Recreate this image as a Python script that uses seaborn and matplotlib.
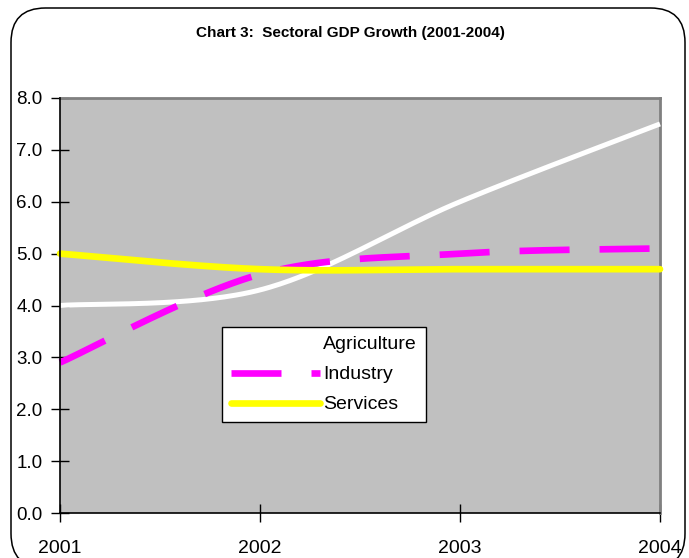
import numpy as np
import pandas as pd
import seaborn as sns
import matplotlib
matplotlib.use("Agg")
import matplotlib.pyplot as plt
from matplotlib.patches import FancyBboxPatch

# Sectoral GDP growth, percent
years = [2001, 2002, 2003, 2004]
agriculture = [4.0, 4.3, 6.0, 7.5]
industry = [2.9, 4.6, 5.0, 5.1]
services = [5.0, 4.7, 4.7, 4.7]
y_ticks = [0.0, 1.0, 2.0, 3.0, 4.0, 5.0, 6.0, 7.0, 8.0]


def smooth(xs, ys, n=60):
    """Catmull-Rom curve through the points, as spreadsheet 'smoothed line' charts draw them."""
    xs = np.asarray(xs, float)
    ys = np.asarray(ys, float)
    px = np.concatenate([[xs[0]], xs, [xs[-1]]])
    py = np.concatenate([[ys[0]], ys, [ys[-1]]])
    out_x, out_y = [], []
    for i in range(1, len(px) - 2):
        t = np.linspace(0, 1, n, endpoint=(i == len(px) - 3))
        for arr, out in ((px, out_x), (py, out_y)):
            p0, p1, p2, p3 = arr[i - 1], arr[i], arr[i + 1], arr[i + 2]
            m1 = (p2 - p0) / 2
            m2 = (p3 - p1) / 2
            h00 = 2 * t**3 - 3 * t**2 + 1
            h10 = t**3 - 2 * t**2 + t
            h01 = -2 * t**3 + 3 * t**2
            h11 = t**3 - t**2
            out.extend(h00 * p1 + h10 * m1 + h01 * p2 + h11 * m2)
    return np.array(out_x), np.array(out_y)


sns.set_theme(style="white")
plt.rcParams["font.family"] = ["Liberation Sans", "DejaVu Sans"]
plt.rcParams["text.color"] = "black"
plt.rcParams["xtick.color"] = "black"
plt.rcParams["ytick.color"] = "black"
plt.rcParams["xtick.labelcolor"] = "black"
plt.rcParams["ytick.labelcolor"] = "black"

fig = plt.figure(figsize=(6.89, 5.58), dpi=100)
fig.patch.set_facecolor("white")

# rounded outer chart frame (its lower edge runs just past the bottom of the image)
frame = FancyBboxPatch((11 / 689, -10 / 558), 674 / 689, 560 / 558,
                       boxstyle="round,pad=0,rounding_size=0.05",
                       transform=fig.transFigure, facecolor="none",
                       edgecolor="black", linewidth=1.1, zorder=20,
                       mutation_aspect=689 / 558)
fig.patches.append(frame)

ax = fig.add_axes([60 / 689, 45 / 558, 600 / 689, 415 / 558])
ax.set_facecolor("#C0C0C0")

pos = np.arange(len(years))
series = [
    ("Agriculture", agriculture, dict(color="white", linewidth=3.6, solid_capstyle="butt")),
    ("Industry", industry, dict(color="#FF00FF", linewidth=4.8, dashes=(7.5, 4.5),
                                dash_capstyle="butt")),
    ("Services", services, dict(color="#FFFF00", linewidth=4.8, solid_capstyle="round")),
]
for i, (name, vals, style) in enumerate(series):
    sx, sy = smooth(pos, vals)
    df = pd.DataFrame({"x": sx, "y": sy})
    sns.lineplot(data=df, x="x", y="y", ax=ax, label=name, sort=False,
                 estimator=None, zorder=3 + i, clip_on=False, **style)

ax.set_xlim(0, 3)
ax.set_ylim(0, 8)
ax.set_xticks(pos)
ax.set_xticklabels([str(y) for y in years], fontsize=14)
ax.set_yticks(y_ticks)
ax.set_yticklabels([f"{v:.1f}" for v in y_ticks], fontsize=13.5)
ax.set_xlabel("")
ax.set_ylabel("")
ax.tick_params(axis="both", direction="inout", length=13, width=1, color="black",
               left=True, bottom=True)
ax.tick_params(axis="y", pad=6)
ax.tick_params(axis="x", pad=13)

for side in ("left", "bottom"):
    ax.spines[side].set_color("black")
    ax.spines[side].set_linewidth(1.2)
    ax.spines[side].set_zorder(6)
for side in ("top", "right"):
    ax.spines[side].set_visible(True)
    ax.spines[side].set_color("#808080")
    ax.spines[side].set_linewidth(2)

fig.text(350 / 689, 1 - 33 / 558, "Chart 3:  Sectoral GDP Growth (2001-2004)",
         ha="center", va="center", fontsize=11, fontweight="bold")

leg = ax.legend(loc="upper left", bbox_to_anchor=(162 / 600, 186 / 415),
                borderaxespad=0, frameon=True, fancybox=False, fontsize=14,
                framealpha=1, handlelength=4.6, handletextpad=0.15,
                labelspacing=0.64, borderpad=0.45)
leg.get_frame().set_edgecolor("black")
leg.get_frame().set_linewidth(1)
leg.get_frame().set_facecolor("white")
for txt in leg.get_texts():
    txt.set_color("black")
leg.set_zorder(10)

fig.savefig("out.png", dpi=100, facecolor="white")
